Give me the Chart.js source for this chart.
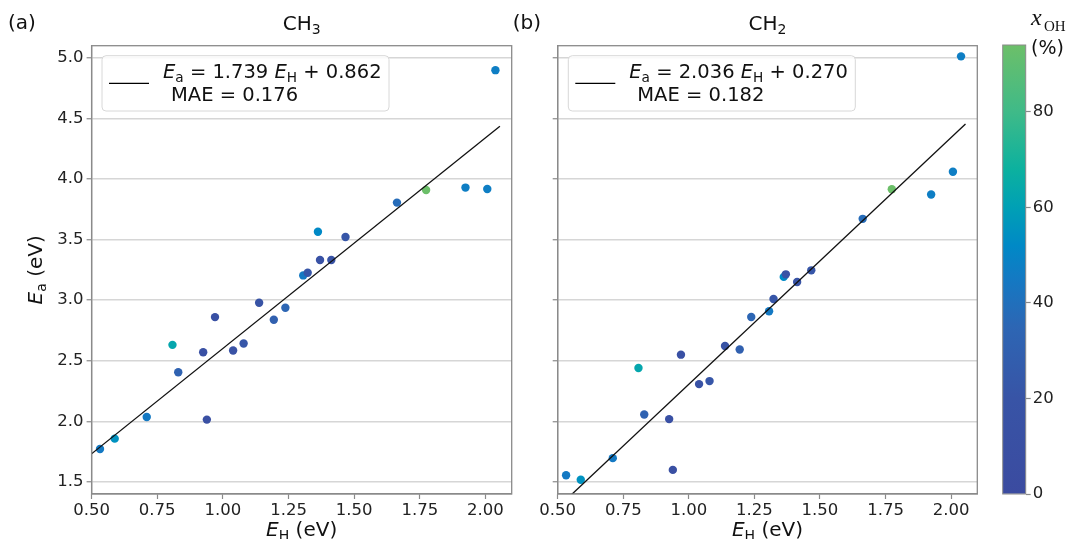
<!DOCTYPE html>
<html lang="en">
<head>
  <meta charset="UTF-8" />
  <title>Ea vs EH (CH3 / CH2)</title>
  <script src="https://cdn.jsdelivr.net/npm/chart.js@4"></script>
  <style>
    body { margin: 0; background: #fff; }
    #wrap { position: relative; width: 1067px; height: 539px; background: #fff; }
    #wrap canvas { position: absolute; left: 0; top: 0; }
  </style>
</head>
<body>
  <div id="wrap">
    <canvas id="chartA" width="1067" height="539"></canvas>
    <canvas id="chartB" width="1067" height="539"></canvas>
    <canvas id="chartC" width="1067" height="539"></canvas>
  </div>

  <script>
    // data
    const eH    = [0.532, 0.588, 0.710, 0.808, 0.830, 0.925, 0.939, 0.970, 1.039, 1.079, 1.138, 1.194,
                   1.238, 1.306, 1.323, 1.362, 1.370, 1.413, 1.467, 1.663, 1.774, 1.924, 2.007, 2.038];
    const eaCH3 = [1.772, 1.857, 2.036, 2.631, 2.405, 2.570, 2.014, 2.860, 2.584, 2.642, 2.978, 2.838,
                   2.937, 3.204, 3.226, 3.565, 3.331, 3.331, 3.521, 3.805, 3.909, 3.929, 3.917, 4.898];
    const eaCH2 = [1.555, 1.517, 1.696, 2.440, 2.056, 2.018, 1.599, 2.550, 2.307, 2.332, 2.621, 2.593,
                   2.861, 2.908, 3.010, 3.192, 3.213, 3.150, 3.246, 3.671, 3.916, 3.872, 4.060, 5.012];
    const xOH   = [45, 55, 45, 63, 32, 12, 10, 12, 15, 22, 18, 30,
                   35, 45, 22, 52, 15, 18, 22, 38, 94, 47, 47, 47];

    // fitted lines (end points)
    const fitX   = [0.45, 2.055];
    const fitCH3 = [1.645, 4.436];
    const fitCH2 = [1.186, 4.454];

    const xTicks  = [0.5, 0.75, 1.0, 1.25, 1.5, 1.75, 2.0];
    const yTicks  = [1.5, 2.0, 2.5, 3.0, 3.5, 4.0, 4.5, 5.0];
    const cbTicks = [0, 20, 40, 60, 80];
    const cbMax = 94;

    const FONT = 'DejaVu Sans';
    const SERIF = 'Liberation Serif';
    const AXIS = '#8a8a8a';

    // colour map used by the colour bar and the points
    const cmapStops = [
      [0, '#3b4ba0'], [20, '#3854a6'], [35, '#2d66b4'], [45, '#1479c3'], [52, '#0089c6'],
      [60, '#00a0b5'], [68, '#0cb19f'], [80, '#3fba88'], [94, '#6cbf69']
    ];

    function hexRgb(h) {
      return [1, 3, 5].map(i => parseInt(h.substr(i, 2), 16));
    }

    function colorFor(v) {
      for (let i = 1; i < cmapStops.length; i++) {
        const [v1, c1] = cmapStops[i - 1];
        const [v2, c2] = cmapStops[i];
        if (v <= v2 || i === cmapStops.length - 1) {
          const t = Math.max(0, Math.min(1, (v - v1) / (v2 - v1)));
          const a = hexRgb(c1), b = hexRgb(c2);
          const c = a.map((x, k) => Math.round(x + (b[k] - x) * t));
          return `rgb(${c[0]},${c[1]},${c[2]})`;
        }
      }
    }

    // text with italic / subscript pieces: parts = [[text, 'i'|'s'|'is'|'']]
    function rich(ctx, parts, x, y, size, align, fam) {
      fam = fam || FONT;
      const fontOf = st => (st.includes('i') ? 'italic ' : '') + (st.includes('s') ? size * 0.7 : size) + 'px "' + fam + '"';
      let w = 0;
      parts.forEach(([t, st]) => { ctx.font = fontOf(st); w += ctx.measureText(t).width; });
      let cx = align === 'center' ? x - w / 2 : x;
      ctx.textAlign = 'left';
      ctx.textBaseline = 'alphabetic';
      parts.forEach(([t, st]) => {
        ctx.font = fontOf(st);
        ctx.fillText(t, cx, y + (st.includes('s') ? size * 0.22 : 0));
        cx += ctx.measureText(t).width;
      });
    }

    const panelDeco = {
      id: 'panelDeco',
      afterDraw(chart, args, o) {
        const ctx = chart.ctx;
        const ca = chart.chartArea;
        ctx.save();
        // frame
        ctx.strokeStyle = AXIS;
        ctx.lineWidth = 1.3;
        ctx.strokeRect(ca.left, ca.top, ca.right - ca.left, ca.bottom - ca.top);

        // legend box
        const bx = ca.left + o.legendDx, by = 55.7, bw = o.legendW, bh = 55.3;
        ctx.beginPath();
        ctx.roundRect(bx, by, bw, bh, 4);
        ctx.fillStyle = 'rgba(255,255,255,0.85)';
        ctx.fill();
        ctx.strokeStyle = '#d8d8d8';
        ctx.lineWidth = 1;
        ctx.stroke();
        ctx.beginPath();
        ctx.moveTo(bx + 7, 83.3);
        ctx.lineTo(bx + 47, 83.3);
        ctx.strokeStyle = '#000';
        ctx.lineWidth = 1.3;
        ctx.stroke();
        ctx.fillStyle = '#111';
        rich(ctx, [['E', 'i'], ['a', 's'], [' = ' + o.slope + ' ', ''], ['E', 'i'], ['H', 's'], [' + ' + o.icept, '']],
             bx + 61, 77.5, 19.5, 'left');
        rich(ctx, [['MAE = ' + o.mae, '']], bx + 69, 100.5, 19.5, 'left');

        // titles and axis labels
        const mid = (ca.left + ca.right) / 2;
        rich(ctx, [[o.tag, '']], o.tagX, 28.5, 20, 'left');
        rich(ctx, [['CH', ''], [o.sub, 's']], mid, 30, 20, 'center');
        rich(ctx, [['E', 'i'], ['H', 's'], [' (eV)', '']], mid, 536, 20, 'center');
        if (o.yTitle) {
          ctx.translate(42, (ca.top + ca.bottom) / 2);
          ctx.rotate(-Math.PI / 2);
          rich(ctx, [['E', 'i'], ['a', 's'], [' (eV)', '']], 0, 0, 20, 'center');
        }
        ctx.restore();
      }
    };

    function makePanel(id, ys, fitY, pad, yWidth, showY, deco) {
      return new Chart(document.getElementById(id), {
        type: 'scatter',
        data: {
          datasets: [
            {
              type: 'line',
              data: fitX.map((x, i) => ({ x: x, y: fitY[i] })),
              borderColor: '#111',
              borderWidth: 1.3,
              pointRadius: 0,
              fill: false
            },
            {
              data: eH.map((x, i) => ({ x: x, y: ys[i] })),
              backgroundColor: xOH.map(colorFor),
              pointRadius: 4.2,
              pointHoverRadius: 4.2,
              borderWidth: 0
            }
          ]
        },
        options: {
          responsive: false,
          animation: false,
          events: [],
          layout: { padding: pad },
          plugins: { legend: { display: false }, tooltip: { enabled: false }, panelDeco: deco },
          scales: {
            x: {
              type: 'linear', min: 0.5, max: 2.1,
              afterBuildTicks: s => { s.ticks = xTicks.map(v => ({ value: v })); },
              afterFit: s => { s.height = 45; },
              grid: { drawOnChartArea: false, tickLength: 5, tickColor: AXIS, tickWidth: 1.2 },
              border: { color: AXIS, width: 1.3 },
              ticks: {
                autoSkip: false, maxRotation: 0, padding: 2, color: '#222',
                font: { family: FONT, size: 16.5 },
                callback: v => Number(v).toFixed(2)
              }
            },
            y: {
              type: 'linear', min: 1.4, max: 5.1,
              afterBuildTicks: s => { s.ticks = yTicks.map(v => ({ value: v })); },
              afterFit: s => { s.width = yWidth; },
              grid: { color: '#d6d6d6', lineWidth: 1.5, tickLength: 5, tickColor: AXIS, tickWidth: 1.2 },
              border: { color: AXIS, width: 1.3 },
              ticks: {
                display: showY, autoSkip: false, padding: 3, color: '#222',
                font: { family: FONT, size: 16.5 },
                callback: v => Number(v).toFixed(1)
              }
            }
          }
        },
        plugins: [panelDeco]
      });
    }

    makePanel('chartA', eaCH3, fitCH3, { left: 0, right: 555.3, top: 45.7, bottom: 0 }, 91.6, true,
      { legendDx: 10.4, legendW: 287, slope: '1.739', icept: '0.862', mae: '0.176', tag: '(a)', tagX: 8, sub: '3', yTitle: true });
    makePanel('chartB', eaCH2, fitCH2, { left: 530, right: 89.7, top: 45.7, bottom: 0 }, 27.7, false,
      { legendDx: 10.6, legendW: 287, slope: '2.036', icept: '0.270', mae: '0.182', tag: '(b)', tagX: 512.7, sub: '2', yTitle: false });

    // colour bar
    const cbDeco = {
      id: 'cbDeco',
      afterDraw(chart) {
        const ctx = chart.ctx;
        const ca = chart.chartArea;
        ctx.save();
        ctx.strokeStyle = AXIS;
        ctx.lineWidth = 1;
        ctx.strokeRect(ca.left, ca.top, ca.right - ca.left, ca.bottom - ca.top);
        ctx.fillStyle = '#111';
        rich(ctx, [['x', 'i']], 1031, 25, 24, 'left', SERIF);
        rich(ctx, [['OH', '']], 1044, 31, 15, 'left', SERIF);
        rich(ctx, [['(%)', '']], 1031, 54, 19, 'left');
        ctx.restore();
      }
    };

    new Chart(document.getElementById('chartC'), {
      type: 'bar',
      data: {
        labels: ['x'],
        datasets: [{
          data: [[0, cbMax]],
          borderWidth: 0,
          barPercentage: 1,
          categoryPercentage: 1,
          backgroundColor: c => {
            const ch = c.chart;
            if (!ch.chartArea) return '#3b4ba0';
            const ys = ch.scales.y;
            const g = ch.ctx.createLinearGradient(0, ys.getPixelForValue(0), 0, ys.getPixelForValue(cbMax));
            cmapStops.forEach(([v, col]) => g.addColorStop(Math.min(1, v / cbMax), col));
            return g;
          }
        }]
      },
      options: {
        responsive: false,
        animation: false,
        events: [],
        layout: { padding: { left: 1002.7, right: 0, top: 45, bottom: 45 } },
        plugins: { legend: { display: false }, tooltip: { enabled: false } },
        scales: {
          x: { display: false },
          y: {
            position: 'right', min: 0, max: cbMax,
            afterBuildTicks: s => { s.ticks = cbTicks.map(v => ({ value: v })); },
            afterFit: s => { s.width = 1067 - 1025.7; },
            grid: { drawOnChartArea: false, tickLength: 5, tickColor: AXIS, tickWidth: 1.2 },
            border: { display: false },
            ticks: { padding: 2, color: '#222', font: { family: FONT, size: 16.5 } }
          }
        }
      },
      plugins: [cbDeco]
    });
  </script>
</body>
</html>
